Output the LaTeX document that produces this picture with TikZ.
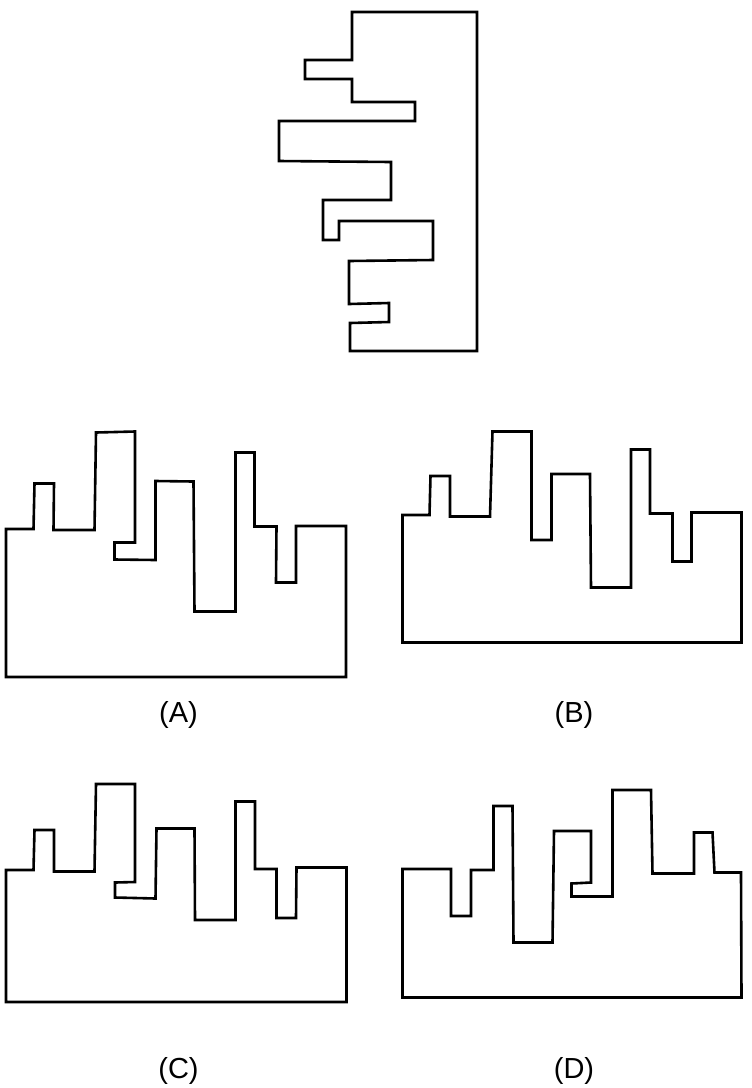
\documentclass[tikz,border=0pt]{standalone}
\usepackage{fontspec}
\setmainfont{Liberation Sans}
\begin{document}
\begin{tikzpicture}[x=1pt,y=-1pt,
  outline/.style={draw=black,line width=2.6pt,line join=miter},
  lbl/.style={inner sep=0pt,font=\fontsize{29}{30}\selectfont}]
\useasboundingbox[fill=white] (0,0) rectangle (752,1088);
% reference shape
\draw[outline] (352,12) -- (477,12) -- (477,351) -- (350,351) -- (350,323) -- (389,322) -- (389,303) -- (349,304) -- (349,261) -- (433,260) -- (433,221) -- (339,221) -- (339,240) -- (323,240) -- (323,200) -- (391,200) -- (391,162) -- (279,161) -- (279,121) -- (415,121) -- (415,102) -- (352,102) -- (352,79) -- (305,79) -- (305,60) -- (352,60) -- cycle;
% (A)
\draw[outline] (6,677) -- (6,529) -- (33.5,529) -- (34.5,483.5) -- (54,483.5) -- (53.5,530) -- (94.5,530) -- (96,432.5) -- (135,431.5) -- (135,542.5) -- (114.5,542.5) -- (114.5,559.5) -- (155.5,560) -- (155.5,481) -- (193.5,481.5) -- (194.5,611.5) -- (235.5,611.5) -- (235.5,452.5) -- (254.5,452.5) -- (254.5,526.5) -- (276.5,526.5) -- (276,582.5) -- (296,582.5) -- (296,526) -- (346,526) -- (346,677) -- cycle;
% (B)
\draw[outline] (402.5,642.5) -- (402.5,515) -- (429.5,515) -- (430.5,476) -- (450,476) -- (450,516.5) -- (490,516.5) -- (492.5,431.5) -- (531.5,431.5) -- (531.5,540) -- (551.5,540) -- (551.5,474) -- (590,474) -- (591,587.5) -- (631,587.5) -- (631,449.5) -- (650,449.5) -- (650,513.5) -- (672.5,513.5) -- (672.5,561.5) -- (691.5,561.5) -- (691.5,512.5) -- (741.5,512.5) -- (741.5,642.5) -- cycle;
% (C)
\draw[outline] (6,1002) -- (6,870) -- (33.5,870) -- (34.5,830) -- (54,830) -- (54,871.5) -- (94.5,871.5) -- (96,784) -- (135,784) -- (135,882) -- (115,882.5) -- (115,897.5) -- (155.5,898.5) -- (156.5,828.5) -- (194.5,828.5) -- (195,920) -- (235.5,920) -- (235.5,801.5) -- (255,801.5) -- (255,869) -- (276.5,869) -- (276.5,918) -- (296,918) -- (296.5,867.5) -- (346.5,867.5) -- (346.5,1002) -- cycle;
% (D)
\draw[outline] (402.5,997.5) -- (402.5,869) -- (451,869) -- (451,916) -- (471,916) -- (471,870) -- (493.5,870) -- (493.5,806) -- (512.5,806) -- (513.5,942.5) -- (552.5,942.5) -- (554,831) -- (591,831) -- (591,882.5) -- (571.5,883.5) -- (571.5,896.5) -- (612.5,896.5) -- (612.5,790) -- (651,790) -- (652.5,873.5) -- (694,873.5) -- (694,832.5) -- (712.5,832.5) -- (714.5,872.5) -- (741,872.5) -- (741.5,997.5) -- cycle;
% labels
\node[lbl] (la) at (178.5,715) {(A)};
\node[lbl] (lb) at (574,715) {(B)};
\node[lbl] (lc) at (178.5,1071) {(C)};
\node[lbl] (ld) at (574,1071) {(D)};
\end{tikzpicture}
\end{document}
